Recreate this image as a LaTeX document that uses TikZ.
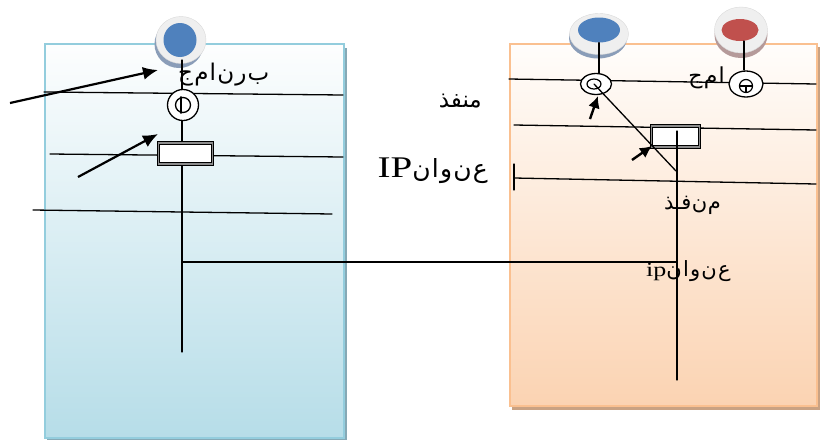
\documentclass[tikz,border=0pt]{standalone}
\usepackage{fontspec}
\setmainfont{Liberation Serif}
\newfontfamily\arabicfont[Script=Arabic]{DejaVu Sans}
\TeXXeTstate=1
\usetikzlibrary{arrows.meta,shapes.geometric}
\definecolor{lborder}{HTML}{93CDDD}
\definecolor{ltop}{HTML}{FDFEFE}
\definecolor{lbot}{HTML}{B6DDE8}
\definecolor{lshadow}{HTML}{86A9B5}
\definecolor{oborder}{HTML}{FAC090}
\definecolor{otop}{HTML}{FFFDFB}
\definecolor{obot}{HTML}{FBD3B2}
\definecolor{oshadow}{HTML}{C9A283}
\definecolor{dotblue}{HTML}{4F81BD}
\definecolor{dotred}{HTML}{C0504D}
\definecolor{ringgray}{HTML}{EFEFEF}
\definecolor{bshade}{HTML}{8A9DB8}
\definecolor{rshade}{HTML}{B59A9A}
\newcommand{\arsize}[1]{\arabicfont\fontsize{#1}{#1}\selectfont}
% small gap that keeps Arabic letters apart
\newcommand{\lgap}{\kern1.2pt}
\begin{document}
\begin{tikzpicture}[x=1pt,y=-1pt,
  wire/.style={line width=1.3pt,line cap=round},
  pointer/.style={line width=2.2pt,-{Latex[length=15pt,width=13pt]}},
  shortpointer/.style={line width=2.4pt,-{Latex[length=12pt,width=12pt]}},
  ring/.style={ellipse,fill=ringgray,draw=black!15,line width=0.4pt,inner sep=0pt},
  dot/.style={ellipse,inner sep=0pt},
  port/.style={ellipse,draw=black,line width=1.3pt,fill=white,inner sep=0pt},
  slot/.style={rectangle,draw=black,line width=1pt,double=black!45,double distance=1.1pt,fill=white,inner sep=0pt},
  box/.style={rectangle,anchor=north west,inner sep=0pt,line width=2.4pt},
  label/.style={inner sep=0pt}]
\useasboundingbox (0,0) rectangle (820,440);

% the two machines
\fill[lshadow] (47,48) rectangle (347,440);
\node[box,minimum width=299pt,minimum height=394pt,draw=lborder,top color=ltop,bottom color=lbot] (lbox) at (44,43) {};
\fill[oshadow] (512,47) rectangle (820,410);
\node[box,minimum width=307pt,minimum height=362pt,draw=oborder,top color=otop,bottom color=obot] (rbox) at (509,43) {};

% left machine: coloured dot on a grey ring
\node[dot,fill=bshade,minimum width=49pt,minimum height=48pt] (lshd) at (179,44) {};
\node[ring,minimum width=50pt,minimum height=47pt] (lring) at (181,40) {};
\node[dot,fill=dotblue,minimum width=33pt,minimum height=34pt] (ldot) at (180,40) {};

% right machine: two dots
\node[dot,fill=bshade,minimum width=58pt,minimum height=41pt] (rbshd) at (598,38) {};
\node[ring,minimum width=59pt,minimum height=41pt] (rbring) at (599,34) {};
\node[dot,fill=dotblue,minimum width=42pt,minimum height=25pt] (rbdot) at (599,30) {};
\node[dot,fill=rshade,minimum width=53pt,minimum height=46pt] (rrshd) at (741,35) {};
\node[ring,minimum width=53pt,minimum height=46pt] (rrring) at (741,30) {};
\node[dot,fill=dotred,minimum width=37pt,minimum height=22pt] (rrdot) at (740,30) {};

% left machine: layers
\coordinate (la1) at (44,92);   \coordinate (lb1) at (343,95);
\coordinate (la2) at (50,154);  \coordinate (lb2) at (343,157);
\coordinate (la3) at (33,210);  \coordinate (lb3) at (332,214);
\draw[wire] (la1) -- (lb1);
\draw[wire] (la2) -- (lb2);
\draw[wire] (la3) -- (lb3);
\coordinate (ltop) at (182,60);
\coordinate (lend) at (182,352);
\coordinate (ljoin) at (182,262);
\draw[wire] (ltop) -- (lend);

\node[label,anchor=base west] (lprog) at (178,80) {\arsize{23}\beginR ب\lgap ر\lgap ن\lgap ا\lgap م\lgap ج\endR};

\node[port,minimum size=31pt] (lport) at (183,105) {};
\node[circle,draw=black,line width=1.3pt,inner sep=0pt,minimum size=15pt] (lportin) at (183,105) {};
\draw[wire] ([xshift=-2pt]lportin.north) -- ([xshift=-2pt]lportin.south);
\node[slot,minimum width=54pt,minimum height=21pt] (lslot) at (185.5,153.5) {};

% right machine: layers
\coordinate (ra1) at (509,79);  \coordinate (rb1) at (816,84);
\coordinate (ra2) at (514,125); \coordinate (rb2) at (816,130);
\coordinate (ra3) at (514,178); \coordinate (rb3) at (816,184);
\draw[wire] (ra1) -- (rb1);
\draw[wire] (ra2) -- (rb2);
\draw[wire] (ra3) -- (rb3);
\coordinate (rtick1) at (514,164); \coordinate (rtick2) at (514,190);
\draw[wire] (rtick1) -- (rtick2);

\coordinate (rbdrop) at (599,74);
\draw[wire] (rbdot.south) -- (rbdrop);
\coordinate (rrtop) at (744,41); \coordinate (rrdrop) at (744,70);
\draw[wire] (rrtop) -- (rrdrop);

\node[label,anchor=base east] (rprog) at (725,83) {\arsize{22}\beginR ا\lgap م\lgap ج\endR};

\node[port,minimum width=31pt,minimum height=21pt] (rport) at (596,84) {};
\node[ellipse,draw=black,line width=1.2pt,inner sep=0pt,minimum width=14pt,minimum height=10pt] (rportin) at (594,84) {};
\node[port,minimum width=34pt,minimum height=26pt] (rport2) at (746,84) {};
\node[circle,draw=black,line width=1.2pt,inner sep=0pt,minimum size=13pt] (rport2in) at (746,86) {};
\draw[line width=1.2pt] (rport2in.west) -- (rport2in.east);
\draw[line width=1.2pt] (rport2in.center) -- (rport2in.south);

\node[slot,minimum width=48pt,minimum height=21pt] (rslot) at (675.5,136.5) {};

\coordinate (rend) at (677,380);
\coordinate (rdiag) at (676,171);
\coordinate (rvtop) at (677,131);
\draw[wire] (rportin.center) -- (rdiag);
\draw[wire] (rvtop) -- (rend);
\coordinate (rjoin) at (677,262);
\draw[wire] (ljoin) -- (rjoin);

\node[label,anchor=base west] (rporttxt) at (664,209) {\arsize{21}\beginR م\kern0.5pt ن\kern0.5pt فـذ\endR};
\node[label,anchor=base west] (raddr) at (646,276)
  {\scalebox{1.3}[1]{\fontsize{20}{20}\selectfont ip}{\arsize{21}\beginR ع\lgap ن\lgap و\lgap ا\lgap ن\endR}};

% arrows
\coordinate (lar1s) at (10,103); \coordinate (lar1e) at (158,70);
\coordinate (lar2s) at (78,177); \coordinate (lar2e) at (158,134);
\draw[pointer] (lar1s) -- (lar1e);
\draw[pointer] (lar2s) -- (lar2e);
\coordinate (rar1s) at (590,119); \coordinate (rar1e) at (598,96);
\coordinate (rar2s) at (632,160); \coordinate (rar2e) at (652,146);
\draw[shortpointer] (rar1s) -- (rar1e);
\draw[shortpointer] (rar2s) -- (rar2e);

% side labels
\node[label,anchor=south east] (portlbl) at (482,108) {\arsize{23}\beginR منفذ\endR};
\node[label,anchor=base east] (addrlbl) at (488,177)
  {\scalebox{1.3}[1]{\fontsize{30}{30}\selectfont IP}{\arsize{25}\beginR ع\lgap ن\lgap و\lgap ا\lgap ن\endR}};
\end{tikzpicture}
\end{document}
